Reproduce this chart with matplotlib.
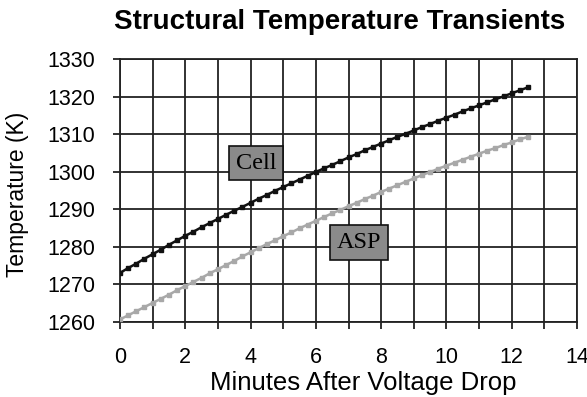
import numpy as np
import matplotlib
matplotlib.use("Agg")
import matplotlib.pyplot as plt

# minutes after the voltage drop, sampled every quarter minute
minutes = np.arange(51) * 0.25

cell_temp = [
    1273.0, 1274.3, 1275.5, 1276.8, 1278.0, 1279.2, 1280.5, 1281.7, 1282.9, 1284.0,
    1285.2, 1286.3, 1287.4, 1288.5, 1289.6, 1290.6, 1291.7, 1292.8, 1293.8, 1294.9,
    1295.9, 1296.9, 1297.9, 1298.9, 1299.9, 1300.9, 1301.8, 1302.8, 1303.8, 1304.7,
    1305.7, 1306.6, 1307.5, 1308.4, 1309.3, 1310.1, 1311.0, 1311.9, 1312.7, 1313.6,
    1314.4, 1315.2, 1316.1, 1316.9, 1317.7, 1318.5, 1319.3, 1320.1, 1320.9, 1321.7,
    1322.5,
]

asp_temp = [
    1260.6, 1261.7, 1262.8, 1263.9, 1265.0, 1266.1, 1267.2, 1268.4, 1269.5, 1270.6,
    1271.7, 1272.9, 1274.0, 1275.1, 1276.2, 1277.4, 1278.5, 1279.6, 1280.7, 1281.7,
    1282.8, 1283.8, 1284.9, 1285.9, 1286.9, 1287.9, 1288.9, 1289.8, 1290.8, 1291.7,
    1292.7, 1293.6, 1294.6, 1295.5, 1296.4, 1297.3, 1298.2, 1299.1, 1299.9, 1300.8,
    1301.6, 1302.4, 1303.2, 1304.0, 1304.8, 1305.6, 1306.3, 1307.1, 1307.8, 1308.6,
    1309.3,
]

x_ticks = [0, 2, 4, 6, 8, 10, 12, 14]
y_ticks = [1260, 1270, 1280, 1290, 1300, 1310, 1320, 1330]

plt.rcParams['font.family'] = ['Liberation Sans', 'DejaVu Sans']

fig = plt.figure(figsize=(5.87, 3.97), dpi=100)
ax = fig.add_axes([0.2044, 0.1897, 0.7786, 0.6612])

ax.plot(minutes, cell_temp, '-s', color='#111111', lw=1.8, ms=3.4, zorder=3)
ax.plot(minutes, asp_temp, '-s', color='#a8a8a8', lw=1.8, ms=3.4, zorder=3)

ax.set_xlim(0, 14)
ax.set_ylim(1260, 1330)
ax.set_xticks(x_ticks)
ax.set_xticks(np.arange(1, 14, 2), minor=True)
ax.set_yticks(y_ticks)
ax.grid(True, which='both', color='#222222', lw=1.3)
ax.set_axisbelow(True)
ax.tick_params(which='both', direction='out', length=5, width=1.3, color='#222222',
               labelsize=15.5)
ax.tick_params(axis='x', pad=13)
ax.tick_params(axis='y', pad=13)
for s in ax.spines.values():
    s.set_color('#222222')
    s.set_linewidth(1.3)

fig.text(0.618, 0.035, 'Minutes After Voltage Drop', fontsize=18.5, ha='center', va='center')
fig.text(0.03, 0.51, 'Temperature (K)', fontsize=16.5, rotation=90, ha='center', va='center')
fig.text(0.579, 0.945, 'Structural Temperature Transients', fontsize=20, fontweight='bold',
         ha='center', va='center')

box = dict(boxstyle='square,pad=0.28', facecolor='#8a8a8a', edgecolor='#111111', lw=1.2)
ax.text(4.17, 1302.3, 'Cell', family='Liberation Serif', fontsize=17.5, ha='center',
        va='center', bbox=box, zorder=4)
ax.text(7.32, 1281.1, 'ASP', family='Liberation Serif', fontsize=17.5, ha='center',
        va='center', bbox=box, zorder=4)

fig.savefig('out.png', dpi=100)
